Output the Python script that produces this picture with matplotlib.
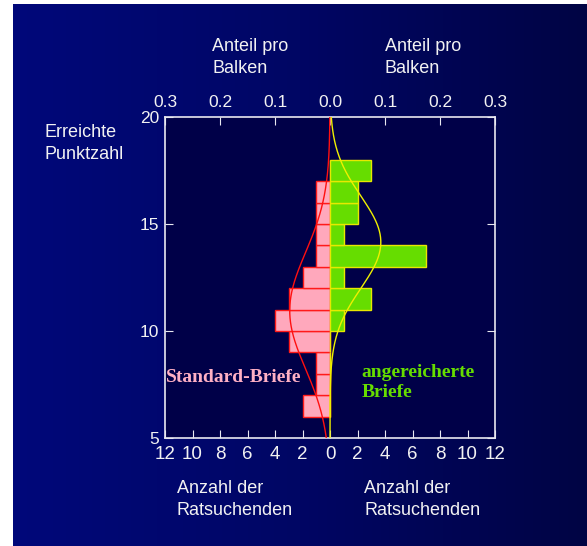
import numpy as np
import matplotlib
matplotlib.use('Agg')
import matplotlib.pyplot as plt
from matplotlib.colors import LinearSegmentedColormap
from matplotlib.ticker import FuncFormatter

# score bins (lower edge), width 1
bin_lower = [6, 7, 8, 9, 10, 11, 12, 13, 14, 15, 16, 17]
standard_counts = [2, 1, 1, 3, 4, 3, 2, 1, 1, 1, 1, 0]
enriched_counts = [0, 0, 0, 0, 1, 3, 1, 7, 1, 2, 2, 3]
n_total = 40  # scale of the proportion axis: 12 counts = 0.3

bottom_ticks = [-12, -10, -8, -6, -4, -2, 0, 2, 4, 6, 8, 10, 12]
top_ticks = [-0.3, -0.2, -0.1, 0.0, 0.1, 0.2, 0.3]
y_ticks = [5, 10, 15, 20]

text_col = '#f2f2f2'
spine_col = '#e8e8f0'
plt.rcParams['font.family'] = ['Liberation Sans', 'DejaVu Sans']

fig = plt.figure(figsize=(5.87, 5.46), dpi=100)
fig.patch.set_facecolor('white')

# dark blue backdrop
bg = fig.add_axes([13 / 587, 0, 1 - 13 / 587, 542 / 546])
bg_cmap = LinearSegmentedColormap.from_list('bg', ['#00087a', '#000664', '#000444'])
bg.imshow(np.linspace(0, 1, 256)[None, :], cmap=bg_cmap, aspect='auto', extent=[0, 1, 0, 1])
bg.set_axis_off()

ax = fig.add_axes([165 / 587, 1 - 438 / 546, 330 / 587, 321 / 546])
ax.set_facecolor('#000048')

bins = np.array(bin_lower) + 0.5
std_c = np.array(standard_counts)
enr_c = np.array(enriched_counts)

ax.barh(bins, -std_c, height=1, color='#ffa8bc', edgecolor='#ff1a1a', linewidth=1, zorder=2)
ax.barh(bins, enr_c, height=1, color='#66dd00', edgecolor='#e8e800', linewidth=1, zorder=2)

# fitted normal curves (from the histogram data)
yy = np.linspace(5, 20, 300)
for counts, sign, col in [(std_c, -1, '#ff1010'), (enr_c, 1, '#f0f000')]:
    n = counts.sum()
    mu = np.sum(bins * counts) / n
    sd = np.sqrt(np.sum(counts * (bins - mu) ** 2) / (n - 1))
    dens = n / (sd * np.sqrt(2 * np.pi)) * np.exp(-0.5 * ((yy - mu) / sd) ** 2)
    ax.plot(sign * dens, yy, color=col, lw=1, zorder=3)

ax.set_xlim(-12, 12)
ax.set_ylim(5, 20)
ax.set_xticks(bottom_ticks)
ax.xaxis.set_major_formatter(FuncFormatter(lambda v, p: f'{abs(v):.0f}'))
ax.set_yticks(y_ticks)
for s in ax.spines.values():
    s.set_color(spine_col)
    s.set_linewidth(1.2)
ax.tick_params(axis='x', direction='in', length=6, color=spine_col, labelcolor=text_col,
               labelsize=13.5, pad=6)
ax.tick_params(axis='y', direction='in', length=6, color=spine_col, labelcolor=text_col,
               labelsize=12.5, right=True, pad=4)

top = ax.secondary_xaxis('top', functions=(lambda x: x / n_total, lambda p: p * n_total))
top.set_xticks(top_ticks)
top.xaxis.set_major_formatter(FuncFormatter(lambda v, p: f'{abs(v):.1f}'))
top.spines['top'].set_visible(False)
top.tick_params(direction='in', length=6, color=spine_col, labelcolor=text_col,
                labelsize=12.5, pad=5)

# labels
lab = dict(color=text_col, fontsize=13, va='top', ha='left', linespacing=1.35)
fig.text(212 / 587, 1 - 38 / 546, 'Anteil pro\nBalken', **lab)
fig.text(385 / 587, 1 - 38 / 546, 'Anteil pro\nBalken', **lab)
fig.text(45 / 587, 1 - 124 / 546, 'Erreichte\nPunktzahl', **lab)
fig.text(177 / 587, 1 - 480 / 546, 'Anzahl der\nRatsuchenden', **lab)
fig.text(364 / 587, 1 - 480 / 546, 'Anzahl der\nRatsuchenden', **lab)

serif = ['Liberation Serif', 'DejaVu Serif']
ax.text(-11.9, 7.85, 'Standard-Briefe', color='#ffb0c4', fontsize=14, fontweight='bold',
        family=serif, va='center', ha='left')
ax.text(2.3, 8.45, 'angereicherte\nBriefe', color='#66dd00', fontsize=14, fontweight='bold',
        family=serif, va='top', ha='left', linespacing=1.25)

fig.savefig('out.png', dpi=100, facecolor=fig.get_facecolor())
